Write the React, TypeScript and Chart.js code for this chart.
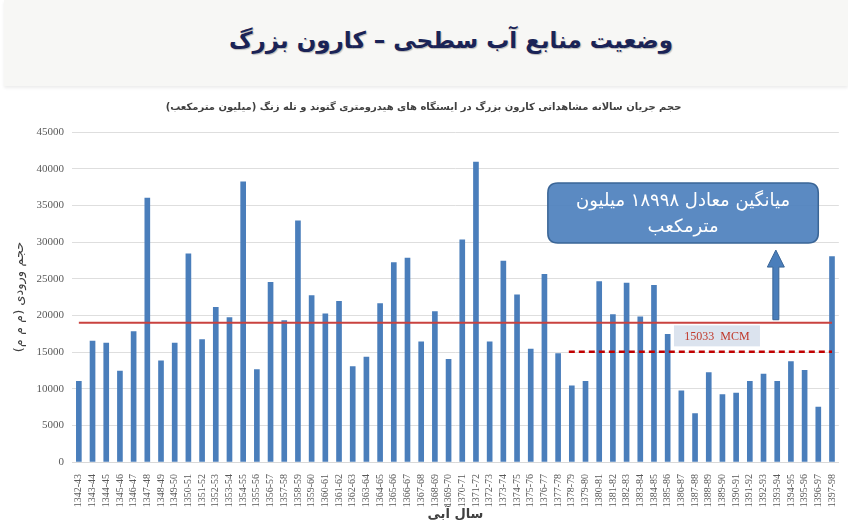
import { useEffect, useRef } from 'react';
import { Chart, registerables } from 'chart.js';

Chart.register(...registerables);

const categories = [
  '1342-43', '1343-44', '1344-45', '1345-46', '1346-47', '1347-48', '1348-49', '1349-50',
  '1350-51', '1351-52', '1352-53', '1353-54', '1354-55', '1355-56', '1356-57', '1357-58',
  '1358-59', '1359-60', '1360-61', '1361-62', '1362-63', '1363-64', '1364-65', '1365-66',
  '1366-67', '1367-68', '1368-69', '1369-70', '1370-71', '1371-72', '1372-73', '1373-74',
  '1374-75', '1375-76', '1376-77', '1377-78', '1378-79', '1379-80', '1380-81', '1381-82',
  '1382-83', '1383-84', '1384-85', '1385-86', '1386-87', '1387-88', '1388-89', '1389-90',
  '1390-91', '1391-92', '1392-93', '1393-94', '1394-95', '1395-96', '1396-97', '1397-98',
];

const inflowValues = [
  11000, 16500, 16200, 12400, 17800, 36000, 13800, 16200,
  28400, 16700, 21100, 19700, 38200, 12600, 24500, 19300,
  32900, 22700, 20200, 21900, 13000, 14300, 21600, 27200,
  27800, 16400, 20500, 14000, 30300, 40900, 16400, 27400,
  22800, 15400, 25600, 14800, 10400, 11000, 24600, 20100,
  24400, 19800, 24100, 17400, 9700, 6600, 12200, 9200,
  9400, 11000, 12000, 11000, 13700, 12500, 7500, 28000,
];

const yTickValues = [0, 5000, 10000, 15000, 20000, 25000, 30000, 35000, 40000, 45000];

const longTermMean = 18998;
const recentMean = 15033;
const recentMeanStart = '1378-79';
const recentMeanLabel = '15033  MCM';
const meanBoxLines = ['میانگین معادل ۱۸۹۹۸ میلیون', 'مترمکعب'];

const pageTitle = 'وضعیت منابع آب سطحی – کارون بزرگ';
const chartTitle = 'حجم جریان سالانه مشاهداتی کارون بزرگ در ایستگاه های هیدرومتری گتوند و تله زنگ (میلیون مترمکعب)';
const yAxisTitle = 'حجم ورودی (م م م)';
const xAxisTitle = 'سال آبی';

const annotationPlugin = {
  id: 'meanAnnotations',
  afterDatasetsDraw(chart: any) {
    const { ctx, scales } = chart;
    const x = scales.x;
    const y = scales.y;
    const last = categories.length - 1;
    const startIdx = categories.indexOf(recentMeanStart);
    ctx.save();

    // long-term mean line
    const yMean = y.getPixelForValue(longTermMean);
    ctx.strokeStyle = '#c9423f';
    ctx.lineWidth = 2;
    ctx.beginPath();
    ctx.moveTo(x.getPixelForValue(0), yMean);
    ctx.lineTo(x.getPixelForValue(last), yMean);
    ctx.stroke();

    // recent mean dashed line
    const yRecent = y.getPixelForValue(recentMean);
    ctx.strokeStyle = '#c00000';
    ctx.lineWidth = 2.5;
    ctx.setLineDash([6, 4]);
    ctx.beginPath();
    ctx.moveTo(x.getPixelForValue(startIdx) - 3, yRecent);
    ctx.lineTo(x.getPixelForValue(last), yRecent);
    ctx.stroke();
    ctx.setLineDash([]);

    // recent mean label
    const lx = x.getPixelForValue(46.6);
    const ly = y.getPixelForValue(17200);
    ctx.fillStyle = '#dbe3ee';
    ctx.fillRect(lx - 43, ly - 10.5, 86, 21);
    ctx.fillStyle = '#c0392b';
    ctx.font = '12px "Liberation Serif"';
    ctx.textAlign = 'center';
    ctx.textBaseline = 'middle';
    ctx.fillText(recentMeanLabel, lx, ly + 1);

    // mean callout box
    const bx1 = x.getPixelForValue(34.25);
    const bx2 = x.getPixelForValue(54.0);
    const by1 = y.getPixelForValue(38060);
    const by2 = y.getPixelForValue(29880);
    const r = 10;
    ctx.beginPath();
    ctx.moveTo(bx1 + r, by1);
    ctx.lineTo(bx2 - r, by1);
    ctx.quadraticCurveTo(bx2, by1, bx2, by1 + r);
    ctx.lineTo(bx2, by2 - r);
    ctx.quadraticCurveTo(bx2, by2, bx2 - r, by2);
    ctx.lineTo(bx1 + r, by2);
    ctx.quadraticCurveTo(bx1, by2, bx1, by2 - r);
    ctx.lineTo(bx1, by1 + r);
    ctx.quadraticCurveTo(bx1, by1, bx1 + r, by1);
    ctx.closePath();
    ctx.fillStyle = 'rgba(79,129,189,0.93)';
    ctx.fill();
    ctx.strokeStyle = '#3a6596';
    ctx.lineWidth = 1.5;
    ctx.stroke();
    ctx.fillStyle = '#ffffff';
    ctx.font = '18px "DejaVu Sans"';
    const cx = (bx1 + bx2) / 2;
    ctx.fillText(meanBoxLines[0], cx, by1 + 18);
    ctx.fillText(meanBoxLines[1], cx, by1 + 44);

    // arrow
    const ax = x.getPixelForValue(50.9);
    const tip = y.getPixelForValue(28900);
    const base = y.getPixelForValue(19400);
    const headH = 17;
    ctx.beginPath();
    ctx.moveTo(ax, tip);
    ctx.lineTo(ax + 8.5, tip + headH);
    ctx.lineTo(ax + 3, tip + headH);
    ctx.lineTo(ax + 3, base);
    ctx.lineTo(ax - 3, base);
    ctx.lineTo(ax - 3, tip + headH);
    ctx.lineTo(ax - 8.5, tip + headH);
    ctx.closePath();
    ctx.fillStyle = '#4a7ebb';
    ctx.fill();
    ctx.strokeStyle = '#3a6596';
    ctx.lineWidth = 1;
    ctx.stroke();

    ctx.restore();
  },
};

function ChartCanvas() {
  const canvasRef = useRef<HTMLCanvasElement | null>(null);
  useEffect(() => {
    if (!canvasRef.current) return;
    const chart = new Chart(canvasRef.current, {
      type: 'bar',
      data: {
        labels: categories,
        datasets: [
          {
            data: inflowValues,
            backgroundColor: '#4a7ebb',
            barThickness: 5,
          },
        ],
      },
      options: {
        responsive: false,
        animation: false,
        layout: { padding: { left: 0, right: 1, top: 0, bottom: 0 } },
        plugins: {
          legend: { display: false },
          tooltip: { enabled: false },
          title: {
            display: true,
            text: chartTitle,
            color: '#404040',
            font: { size: 10, weight: 'bold', family: '"DejaVu Sans"' },
            padding: { top: 13, bottom: 19 },
          },
        },
        scales: {
          x: {
            grid: { display: false },
            border: { display: true, color: '#d9d9d9' },
            ticks: {
              autoSkip: false,
              minRotation: 90,
              maxRotation: 90,
              padding: 4,
              color: '#595959',
              font: { size: 10, family: '"Liberation Serif"' },
            },
            title: {
              display: true,
              text: xAxisTitle,
              color: '#404040',
              font: { size: 13, weight: 'bold', family: '"DejaVu Sans"' },
              padding: { top: 0, bottom: 7 },
            },
            afterFit: (s: any) => {
              s.height = 67;
            },
          },
          y: {
            min: 0,
            max: 45000,
            afterBuildTicks: (s: any) => {
              s.ticks = yTickValues.map((v) => ({ value: v }));
            },
            grid: { color: '#dedede', drawTicks: false },
            border: { display: false },
            ticks: {
              padding: 8,
              color: '#595959',
              font: { size: 11, family: '"Liberation Serif"' },
              callback: (v: any) => String(v),
            },
            title: {
              display: true,
              text: yAxisTitle,
              color: '#404040',
              font: { size: 13, family: '"DejaVu Sans"' },
              padding: { top: 12, bottom: 0 },
            },
            afterFit: (s: any) => {
              s.width = 72;
            },
          },
        },
      },
      plugins: [annotationPlugin],
    } as any);
    return () => chart.destroy();
  }, []);
  return <canvas ref={canvasRef} width={848} height={441} style={{ display: 'block' }} />;
}

export default function App() {
  return (
    <div
      style={{
        position: 'fixed',
        left: 0,
        top: 0,
        width: 848,
        height: 529,
        background: '#ffffff',
        overflow: 'hidden',
      }}
    >
      <div
        style={{
          position: 'absolute',
          left: 4,
          top: 0,
          width: 844,
          height: 86,
          background: '#f7f7f5',
          boxShadow: '0 2px 3px rgba(0,0,0,0.08)',
        }}
      >
        <div
          dir="rtl"
          style={{
            position: 'absolute',
            left: 0,
            width: 844,
            top: 22,
            textAlign: 'center',
            paddingLeft: 50,
            boxSizing: 'border-box',
            font: 'bold 23px "DejaVu Sans"',
            color: '#1a2356',
            textShadow: '1px 1px 1px rgba(0,0,0,0.25)',
            lineHeight: '36px',
          }}
        >
          {pageTitle}
        </div>
      </div>
      <div style={{ position: 'absolute', left: 0, top: 88, width: 848, height: 441 }}>
        <ChartCanvas />
      </div>
    </div>
  );
}
